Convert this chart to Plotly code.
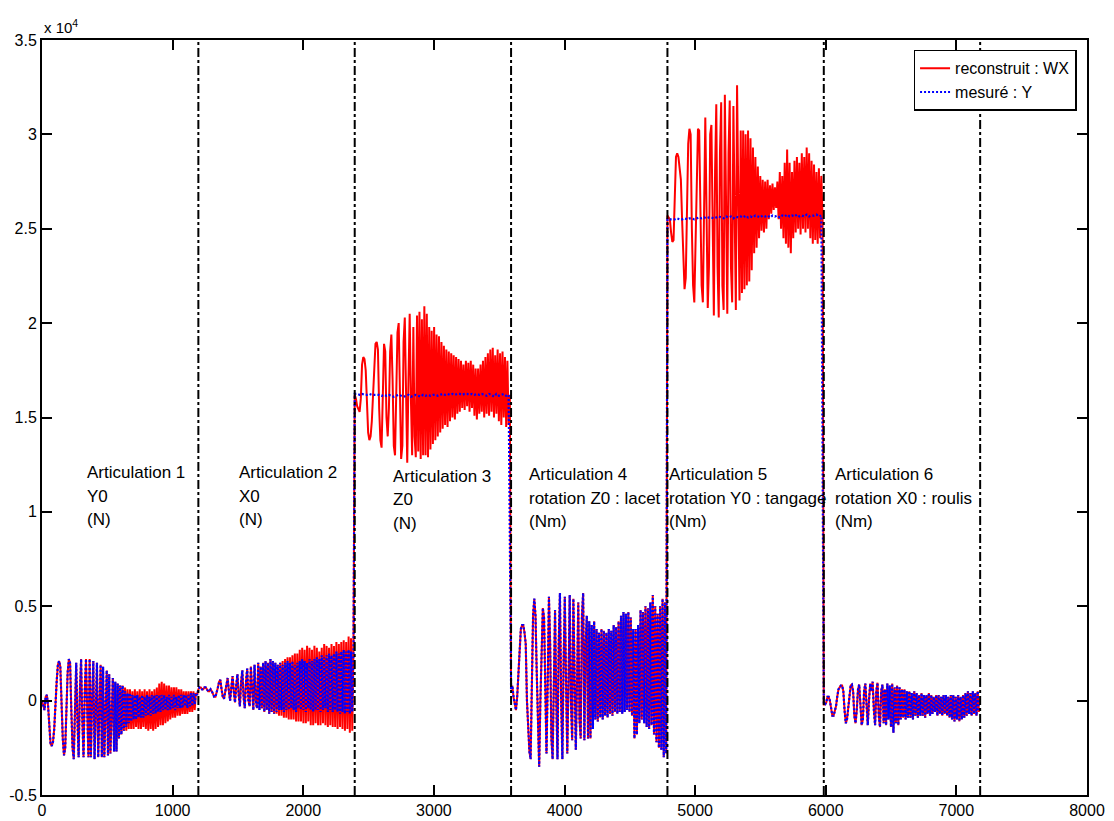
import numpy as np
import plotly.graph_objects as go

# ---------------- data (values in units of 1e4) ----------------
segment_starts = [0, 1197, 2394, 3591, 4788, 5985]
segment_length = 1197
boundary_x = [1197, 2394, 3591, 4788, 5985, 7182]

x_ticks = [0, 1000, 2000, 3000, 4000, 5000, 6000, 7000, 8000]
x_ticktext = ["0", "1000", "2000", "3000", "4000", "5000", "6000", "7000", "8000"]
y_ticks = [-0.5, 0, 0.5, 1, 1.5, 2, 2.5, 3, 3.5]
y_ticktext = ["-0.5", "0", "0.5", "1", "1.5", "2", "2.5", "3", "3.5"]

# Segment 1 : Articulation 1, Y0 (N)
seg1_head = [0.00, -0.03, -0.05, 0.02, 0.03, -0.03, -0.15, -0.23, -0.24, -0.22,
             -0.15, 0.00, 0.10, 0.19, 0.21, 0.18, -0.05, -0.20, -0.29, -0.25,
             -0.05, 0.15, 0.22, 0.20, -0.05, -0.25, -0.31, 0.00, 0.20, -0.10,
             -0.30, 0.05, 0.22, -0.10, -0.30, 0.05, 0.22, -0.05, -0.30, 0.22,
             -0.30, 0.00, 0.21, -0.31, 0.05, 0.20, -0.30, 0.00, 0.19, -0.30,
             0.18, -0.30, 0.00, 0.16, -0.29, 0.14, -0.28, 0.00, 0.12, -0.27,
             0.10, -0.27, 0.09, -0.20, 0.08, -0.18, 0.08, -0.16]
seg1_red_tail = [0.07, -0.16, 0.06, -0.15, 0.06, -0.15, 0.05, -0.15, 0.06, -0.14,
                 0.05, -0.15, 0.06, -0.15, 0.05, -0.14, 0.06, -0.15, 0.05, -0.16,
                 0.06, -0.15, 0.05, -0.16, 0.06, -0.15, 0.07, -0.14, 0.09, -0.13,
                 0.10, -0.13, 0.09, -0.12, 0.08, -0.11, 0.08, -0.10, 0.07, -0.09,
                 0.07, -0.09, 0.07, -0.08, 0.06, -0.08, 0.06, -0.07, 0.05, -0.07,
                 0.05, -0.07, 0.05, -0.06, 0.05, -0.06, 0.05, -0.05, 0.04, 0.03]
seg1_blue_tail = [0.05, -0.14, 0.04, -0.12, 0.04, -0.11, 0.03, -0.10, 0.03, -0.10,
                  0.03, -0.09, 0.02, -0.09, 0.03, -0.09, 0.02, -0.08, 0.03, -0.08,
                  0.02, -0.08, 0.03, -0.07, 0.03, -0.07, 0.03, -0.06, 0.03, -0.06,
                  0.03, -0.05, 0.03, -0.05, 0.02, -0.05, 0.03, -0.05, 0.02, -0.04,
                  0.03, -0.05, 0.02, -0.04, 0.03, -0.04, 0.03, -0.04, 0.03, -0.03,
                  0.03, -0.04, 0.03, -0.03, 0.04, -0.03, 0.04, -0.02, 0.04, 0.03]

# Segment 2 : Articulation 2, X0 (N)
seg2_head = [0.06, 0.07, 0.07, 0.06, 0.06, 0.07, 0.07, 0.06, 0.05, 0.05,
             0.06, 0.05, 0.03, 0.02, 0.02, 0.04, 0.07, 0.10, 0.11, 0.06,
             0.02, 0.01, 0.05, 0.10, 0.12, 0.05, 0.00, 0.07, 0.13, 0.05,
             -0.01, 0.08, 0.14, 0.03, -0.03, 0.10, 0.16, 0.02, -0.04, 0.10,
             0.17, 0.00, -0.03, 0.18, 0.05, -0.05, 0.19, 0.00, -0.04, 0.20,
             -0.05, 0.18, -0.04, 0.20, -0.06, 0.21, -0.05, 0.20, -0.07, 0.22,
             -0.06, 0.21, -0.07, 0.20]
seg2_red_tail = [-0.07, 0.19, -0.08, 0.20, -0.08, 0.21, -0.09, 0.22, -0.09, 0.23,
                 -0.10, 0.23, -0.10, 0.24, -0.10, 0.25, -0.11, 0.25, -0.11, 0.27,
                 -0.11, 0.28, -0.12, 0.27, -0.12, 0.29, -0.11, 0.28, -0.13, 0.27,
                 -0.13, 0.29, -0.12, 0.28, -0.13, 0.26, -0.13, 0.28, -0.12, 0.30,
                 -0.13, 0.29, -0.14, 0.28, -0.13, 0.30, -0.14, 0.29, -0.14, 0.31,
                 -0.15, 0.30, -0.14, 0.31, -0.15, 0.32, -0.16, 0.31, -0.15, 0.34,
                 -0.17, 0.33, -0.16, 0.30]
seg2_blue_tail = [-0.06, 0.19, -0.05, 0.20, -0.05, 0.19, -0.06, 0.20, -0.05, 0.21,
                  -0.05, 0.20, -0.04, 0.21, -0.05, 0.19, -0.06, 0.20, -0.04, 0.21,
                  -0.05, 0.22, -0.05, 0.21, -0.06, 0.20, -0.04, 0.22, -0.05, 0.21,
                  -0.06, 0.22, -0.05, 0.23, -0.05, 0.22, -0.06, 0.24, -0.05, 0.23,
                  -0.04, 0.24, -0.06, 0.25, -0.05, 0.24, -0.06, 0.25, -0.05, 0.26,
                  -0.06, 0.25, -0.07, 0.26, -0.06, 0.27, -0.07, 0.26, -0.06, 0.27,
                  -0.07, 0.26, -0.06, 0.25]

# Segment 3 : Articulation 3, Z0 (N)
seg3_red = [1.62, 1.60, 1.56, 1.54, 1.53, 1.60, 1.78, 1.82, 1.81, 1.75,
            1.55, 1.42, 1.38, 1.40, 1.48, 1.62, 1.82, 1.89, 1.90, 1.86,
            1.55, 1.38, 1.34, 1.60, 1.89, 1.85, 1.50, 1.40, 1.55, 1.85,
            1.94, 1.70, 1.35, 1.30, 1.60, 1.95, 2.00, 1.60, 1.28, 1.35,
            1.90, 2.03, 1.50, 1.26, 1.70, 2.05, 1.60, 1.30, 1.98, 1.40,
            1.29, 2.04, 1.32, 2.06, 1.28, 2.02, 1.30, 2.09, 1.30, 2.05,
            1.29, 1.98, 1.33, 1.96, 1.36, 1.98, 1.38, 1.94, 1.40, 1.93,
            1.42, 1.90, 1.44, 1.88, 1.46, 1.86, 1.45, 1.85, 1.48, 1.84,
            1.50, 1.83, 1.49, 1.82, 1.52, 1.81, 1.53, 1.80, 1.55, 1.78,
            1.54, 1.80, 1.56, 1.79, 1.53, 1.80, 1.55, 1.78, 1.51, 1.76,
            1.49, 1.76, 1.52, 1.78, 1.53, 1.80, 1.50, 1.82, 1.52, 1.84,
            1.51, 1.86, 1.53, 1.87, 1.50, 1.83, 1.52, 1.86, 1.48, 1.84,
            1.46, 1.85, 1.50, 1.82, 1.45, 1.80, 1.46, 1.62]
seg3_blue = [1.625, 1.625, 1.62, 1.625, 1.62, 1.62, 1.625, 1.62, 1.62, 1.62,
             1.62, 1.615, 1.62, 1.615, 1.62, 1.615, 1.61, 1.615, 1.62, 1.615,
             1.61, 1.615, 1.62, 1.61, 1.615, 1.62, 1.615, 1.61, 1.62, 1.615,
             1.62, 1.615, 1.62, 1.62, 1.615, 1.62, 1.625, 1.62, 1.625, 1.62,
             1.625, 1.62, 1.625, 1.625, 1.62, 1.625, 1.625, 1.62, 1.625, 1.62,
             1.625, 1.62, 1.625, 1.62, 1.615, 1.625, 1.62, 1.61, 1.625, 1.615,
             1.62, 1.625, 1.615, 1.62]

# Segment 4 : Articulation 4, rotation Z0 (Nm)
seg4_both = [0.06, 0.08, 0.02, -0.03, -0.05, 0.02, 0.17, 0.30, 0.38, 0.40,
             0.40, 0.36, 0.30, 0.00, -0.18, -0.27, -0.31, 0.10, 0.45, 0.54,
             0.45, 0.15, -0.15, -0.35, 0.00, 0.30, 0.49, 0.44, 0.10, -0.28,
             0.10, 0.55, 0.30, -0.20, -0.31, 0.10, 0.48, 0.00, -0.31, 0.30,
             0.57, 0.00, -0.31, 0.20, 0.55, 0.10, -0.28, 0.10, 0.56, 0.00,
             -0.21, 0.54, 0.20, -0.26, 0.10, 0.52, -0.10, -0.20, 0.45, 0.57,
             -0.21, 0.30, 0.45, -0.20, 0.42, -0.20, 0.40, -0.15, 0.42, -0.10,
             0.38, -0.11, 0.36, -0.09, 0.38, -0.10, 0.37, -0.08, 0.36, -0.09,
             0.38, -0.07, 0.37, -0.08, 0.40, -0.06, 0.39, -0.07, 0.42, -0.06,
             0.45, -0.07, 0.47, -0.06, 0.46, -0.05, 0.47, -0.06, 0.44, -0.08,
             0.38, -0.20, 0.38, -0.18, 0.40, -0.12, 0.48, -0.10, 0.47, -0.12,
             0.50, -0.14, 0.49, -0.15, 0.52, -0.13, 0.56, -0.18, 0.50, -0.22,
             0.46, -0.25, 0.50, -0.26, 0.54, -0.30, 0.52, -0.28]

# Segment 5 : Articulation 5, rotation Y0 (Nm)
seg5_red = [2.57, 2.56, 2.55, 2.48, 2.43, 2.44, 2.70, 2.88, 2.90, 2.88,
            2.82, 2.76, 2.55, 2.30, 2.18, 2.24, 2.65, 2.95, 3.03, 3.00,
            2.50, 2.20, 2.11, 2.43, 2.85, 3.03, 3.02, 2.60, 2.20, 2.11,
            2.80, 3.09, 2.60, 2.08, 2.30, 3.00, 3.05, 2.40, 2.04, 2.80,
            3.16, 2.30, 2.03, 2.90, 3.17, 2.20, 2.07, 3.21, 2.40, 2.05,
            2.90, 3.18, 2.30, 2.11, 3.15, 2.50, 2.07, 3.26, 2.60, 2.12,
            3.02, 2.16, 3.02, 2.18, 3.00, 2.20, 3.02, 2.22, 2.98, 2.28,
            2.93, 2.37, 2.88, 2.40, 2.83, 2.45, 2.78, 2.49, 2.76, 2.48,
            2.75, 2.50, 2.76, 2.55, 2.73, 2.58, 2.74, 2.60, 2.72, 2.61,
            2.75, 2.55, 2.80, 2.50, 2.78, 2.45, 2.85, 2.42, 2.92, 2.40,
            2.85, 2.37, 2.80, 2.45, 2.86, 2.48, 2.88, 2.50, 2.85, 2.47,
            2.90, 2.50, 2.88, 2.48, 2.93, 2.50, 2.90, 2.45, 2.86, 2.42,
            2.84, 2.44, 2.80, 2.42, 2.82, 2.45, 2.78, 2.55]
seg5_blue = [2.55, 2.55, 2.55, 2.55, 2.555, 2.55, 2.55, 2.555, 2.55, 2.555,
             2.555, 2.55, 2.555, 2.56, 2.555, 2.56, 2.555, 2.56, 2.56, 2.555,
             2.56, 2.565, 2.56, 2.555, 2.565, 2.56, 2.565, 2.555, 2.565, 2.56,
             2.565, 2.56, 2.57, 2.56, 2.565, 2.56, 2.57, 2.565, 2.56, 2.57,
             2.565, 2.57, 2.56, 2.57, 2.565, 2.57, 2.56, 2.57, 2.565, 2.575,
             2.565, 2.57, 2.565, 2.575, 2.565, 2.57, 2.565, 2.575, 2.565, 2.57,
             2.57, 2.575, 2.565, 2.57]

# Segment 6 : Articulation 6, rotation X0 (Nm)
seg6_both = [-0.02, -0.02, -0.01, 0.02, 0.02, 0.00, -0.04, -0.08, -0.08, -0.05,
             -0.03, 0.02, 0.06, 0.07, 0.08, 0.08, 0.05, -0.05, -0.12, -0.10,
             -0.04, 0.03, 0.08, 0.085, 0.05, -0.08, -0.12, -0.05, 0.06, 0.085,
             -0.05, -0.13, -0.10, 0.05, 0.09, -0.05, -0.13, 0.00, 0.09, 0.05,
             0.10, -0.05, -0.13, 0.05, 0.095, -0.08, -0.14, 0.05, 0.085, -0.12,
             0.06, -0.13, 0.09, -0.10, 0.08, -0.14, 0.09, -0.17, 0.07, -0.12,
             0.08, -0.13, 0.07, -0.10, 0.06, -0.09, 0.06, -0.10, 0.05, -0.09,
             0.05, -0.09, 0.04, -0.10, 0.05, -0.08, 0.04, -0.09, 0.03, -0.08,
             0.04, -0.08, 0.03, -0.09, 0.03, -0.07, 0.04, -0.08, 0.03, -0.07,
             0.02, -0.06, 0.03, -0.08, 0.03, -0.07, 0.02, -0.08, 0.03, -0.07,
             0.03, -0.08, 0.02, -0.09, 0.03, -0.10, 0.03, -0.11, 0.02, -0.10,
             0.03, -0.11, 0.02, -0.10, 0.03, -0.09, 0.04, -0.08, 0.05, -0.07,
             0.04, -0.08, 0.05, -0.07, 0.04, -0.08, 0.05, -0.06]

red_segments = [seg1_head + seg1_red_tail, seg2_head + seg2_red_tail, seg3_red,
                seg4_both, seg5_red, seg6_both]
blue_segments = [seg1_head + seg1_blue_tail, seg2_head + seg2_blue_tail, seg3_blue,
                 seg4_both, seg5_blue, seg6_both]

label_lines = [
    ["Articulation 1", "Y0", "(N)"],
    ["Articulation 2", "X0", "(N)"],
    ["Articulation 3", "Z0", "(N)"],
    ["Articulation 4", "rotation Z0 : lacet", "(Nm)"],
    ["Articulation 5", "rotation Y0 : tangage", "(Nm)"],
    ["Articulation 6", "rotation X0 : roulis", "(Nm)"],
]
label_x = [330, 1494, 2673, 3714, 4786, 6057]
label_y = [1.208, 1.208, 1.187, 1.197, 1.197, 1.197]
label_dy = 0.124


def build(segments):
    xs, ys = [], []
    for start, vals in zip(segment_starts, segments):
        n = len(vals)
        xs.extend(start + np.arange(n) * segment_length / n)
        ys.extend(vals)
    return np.array(xs), np.array(ys)


rx, ry = build(red_segments)
bx, by = build(blue_segments)

FONT = "Liberation Sans, Arial, Helvetica, sans-serif"

fig = go.Figure()
fig.add_trace(go.Scatter(x=rx, y=ry, mode="lines", name="reconstruit : WX",
                         line=dict(color="#ff0000", width=2)))
fig.add_trace(go.Scatter(x=bx, y=by, mode="lines", name="mesuré : Y",
                         line=dict(color="#0000ff", width=2.2, dash="2px,2px")))

for b in boundary_x:
    fig.add_shape(type="line", x0=b, x1=b, y0=0, y1=1, xref="x", yref="paper",
                  line=dict(color="black", width=2, dash="dashdot"), layer="above")

for lines, lx, ly in zip(label_lines, label_x, label_y):
    for k, t in enumerate(lines):
        fig.add_annotation(x=lx, y=ly - k * label_dy, xref="x", yref="y", text=t,
                           showarrow=False, xanchor="left", yanchor="middle",
                           font=dict(family=FONT, size=17, color="black"))

fig.add_annotation(x=0, y=1, xref="paper", yref="paper", text="x 10<sup>4</sup>",
                   showarrow=False, xanchor="left", yanchor="bottom", yshift=2,
                   font=dict(family=FONT, size=15, color="black"))

axis_common = dict(showline=True, linecolor="black", linewidth=2, mirror="ticks",
                   ticks="inside", ticklen=10, tickwidth=1.5, tickcolor="black",
                   showgrid=False, zeroline=False, automargin=False,
                   tickfont=dict(family=FONT, size=16, color="black"))

# the page body adds an 8 px offset; margins compensate so the frame sits where the reference has it
fig.update_layout(
    width=1106, height=813,
    margin=dict(l=34, r=27, t=32, b=26),
    paper_bgcolor="white", plot_bgcolor="white",
    xaxis=dict(range=[0, 8000], tickvals=x_ticks, ticktext=x_ticktext, **axis_common),
    yaxis=dict(range=[-0.5, 3.5], tickvals=y_ticks, ticktext=y_ticktext, **axis_common),
    legend=dict(x=0.99, y=0.987, xanchor="right", yanchor="top",
                bgcolor="white", bordercolor="black", borderwidth=1.5,
                font=dict(family=FONT, size=16, color="black"),
                tracegroupgap=0),
    showlegend=True,
)

fig.write_html("out.html")
